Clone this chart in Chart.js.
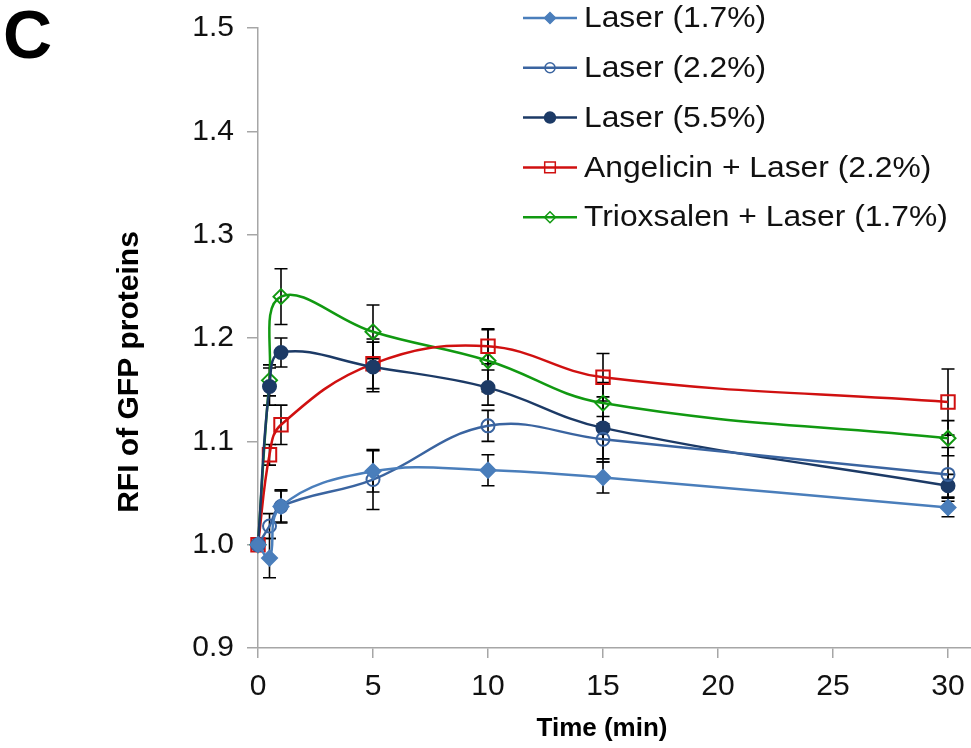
<!DOCTYPE html>
<html>
<head>
<meta charset="utf-8">
<script src="https://cdn.jsdelivr.net/npm/chart.js@4.4.1/dist/chart.umd.min.js"></script>
<style>
  html, body { margin: 0; padding: 0; background: #fff; }
  #wrap { position: relative; width: 971px; height: 748px; }
</style>
</head>
<body>
<div id="wrap"><canvas id="c" width="971" height="748"></canvas></div>
<script>
// ---- Data ----
const times = [0, 0.5, 1, 5, 10, 15, 30];
const seriesLabels = ['Laser (1.7%)', 'Laser (2.2%)', 'Laser (5.5%)', 'Angelicin + Laser (2.2%)', 'Trioxsalen + Laser (1.7%)'];
const laser17    = [1.000, 0.987, 1.037, 1.071, 1.072, 1.065, 1.036];
const laser17Err = [0, 0.019, 0.015, 0.020, 0.015, 0.015, 0.009];
const laser22    = [1.000, 1.018, 1.037, 1.063, 1.115, 1.102, 1.068];
const laser22Err = [0, 0.012, 0.016, 0.029, 0.015, 0.022, 0.026];
const laser55    = [1.000, 1.153, 1.186, 1.172, 1.152, 1.113, 1.057];
const laser55Err = [0, 0.018, 0.014, 0.024, 0.017, 0.030, 0.011];
const angel      = [1.000, 1.087, 1.116, 1.175, 1.192, 1.162, 1.138];
const angelErr   = [0, 0.010, 0.019, 0.024, 0.017, 0.023, 0.032];
const triox      = [1.000, 1.159, 1.240, 1.206, 1.178, 1.137, 1.103];
const trioxErr   = [0, 0.015, 0.027, 0.026, 0.030, 0.020, 0.017];
const xTicks = [0, 5, 10, 15, 20, 25, 30];
const yTicks = [0.9, 1.0, 1.1, 1.2, 1.3, 1.4, 1.5];

const FONT = '"Liberation Sans", Arial, sans-serif';

function pts(vals) { return times.map((t, i) => ({ x: t, y: vals[i] })); }

const styles = [
  { color: '#4a7ebb', pointStyle: 'rectRot', fill: '#4a7ebb', r: 7.5, lr: 5.5 },
  { color: '#3a64a0', pointStyle: 'circle', fill: 'rgba(255,255,255,0)', r: 6.5, lr: 5 },
  { color: '#1c3a66', pointStyle: 'circle', fill: '#1c3a66', r: 6.5, lr: 5.5 },
  { color: '#d01010', pointStyle: 'rect', fill: 'rgba(255,255,255,0)', r: 9.5, lr: 7.5 },
  { color: '#119911', pointStyle: 'rectRot', fill: 'rgba(255,255,255,0)', r: 7.5, lr: 5.5 }
];
const values = [laser17, laser22, laser55, angel, triox];
const errors = [laser17Err, laser22Err, laser55Err, angelErr, trioxErr];

const datasets = values.map((v, i) => ({
  label: seriesLabels[i],
  data: pts(v),
  errs: errors[i],
  borderColor: styles[i].color,
  backgroundColor: styles[i].fill,
  pointBorderColor: styles[i].color,
  pointBackgroundColor: styles[i].fill,
  pointStyle: styles[i].pointStyle,
  pointRadius: styles[i].r,
  pointBorderWidth: 2,
  borderWidth: 2.5,
  tension: 0.4,
  clip: false,
  fill: false
}));

const errorBars = {
  id: 'errorBars',
  beforeDatasetsDraw(chart) {
    const ctx = chart.ctx, xs = chart.scales.x, ys = chart.scales.y;
    ctx.save();
    ctx.strokeStyle = '#000';
    ctx.lineWidth = 1.6;
    chart.data.datasets.forEach(ds => {
      ds.data.forEach((p, i) => {
        const e = ds.errs[i];
        if (!e) return;
        const x = xs.getPixelForValue(p.x);
        const y1 = ys.getPixelForValue(p.y + e);
        const y2 = ys.getPixelForValue(p.y - e);
        ctx.beginPath();
        ctx.moveTo(x, y1); ctx.lineTo(x, y2);
        ctx.moveTo(x - 6.5, y1); ctx.lineTo(x + 6.5, y1);
        ctx.moveTo(x - 6.5, y2); ctx.lineTo(x + 6.5, y2);
        ctx.stroke();
      });
    });
    ctx.restore();
  }
};

function stretchedText(ctx, text, x, y, sx) {
  ctx.save();
  ctx.translate(x, y);
  ctx.scale(sx, 1);
  ctx.fillText(text, 0, 0);
  ctx.restore();
}

const decorations = {
  id: 'decorations',
  afterDraw(chart) {
    const ctx = chart.ctx;
    ctx.save();
    // panel letter
    ctx.fillStyle = '#000';
    ctx.font = 'bold 68px ' + FONT;
    ctx.textAlign = 'left';
    ctx.textBaseline = 'alphabetic';
    ctx.fillText('C', 3, 58);
    // axis titles
    ctx.font = 'bold 26px ' + FONT;
    ctx.textAlign = 'center';
    ctx.textBaseline = 'middle';
    ctx.fillText('Time (min)', 602, 729);
    ctx.save();
    ctx.translate(130, 372);
    ctx.rotate(-Math.PI / 2);
    ctx.font = 'bold 30px ' + FONT;
    ctx.fillText('RFI of GFP proteins', 0, 0);
    ctx.restore();
    // legend
    ctx.font = '30px ' + FONT;
    ctx.textAlign = 'left';
    ctx.textBaseline = 'middle';
    chart.data.datasets.forEach((ds, i) => {
      const y = 18 + i * 49.8;
      ctx.strokeStyle = ds.borderColor;
      ctx.lineWidth = 2.5;
      ctx.beginPath();
      ctx.moveTo(523, y); ctx.lineTo(577, y);
      ctx.stroke();
      ctx.fillStyle = ds.pointBackgroundColor;
      ctx.strokeStyle = ds.pointBorderColor;
      ctx.lineWidth = 1.5;
      Chart.helpers.drawPoint(ctx, { pointStyle: ds.pointStyle, radius: styles[i].lr, borderWidth: 1.5, rotation: 0 }, 550, y);
      ctx.fillStyle = '#111';
      stretchedText(ctx, ds.label, 584, y + 1, 1.06);
    });
    ctx.restore();
  }
};

new Chart(document.getElementById('c'), {
  type: 'line',
  data: { datasets },
  plugins: [errorBars, decorations],
  options: {
    responsive: false,
    animation: false,
    layout: { autoPadding: false, padding: { top: 28, right: 0, left: 0, bottom: 0 } },
    plugins: { legend: { display: false }, tooltip: { enabled: false } },
    scales: {
      x: {
        type: 'linear',
        min: 0, max: 31,
        afterBuildTicks(scale) { scale.ticks = xTicks.map(v => ({ value: v })); },
        afterFit(scale) { scale.height = 100; scale.paddingRight = 0; scale.paddingLeft = 0; },
        grid: { display: true, drawOnChartArea: false, drawTicks: true, tickLength: 10, color: '#a6a6a6', lineWidth: 1.5 },
        border: { display: true, color: '#a6a6a6', width: 1.5 },
        ticks: { font: { family: FONT, size: 30 }, color: '#111', padding: 11, maxRotation: 0, autoSkip: false,
                 callback: v => String(v) }
      },
      y: {
        type: 'linear',
        min: 0.9, max: 1.5,
        afterBuildTicks(scale) { scale.ticks = yTicks.map(v => ({ value: v })); },
        afterFit(scale) { scale.width = 258; scale.paddingTop = 0; scale.paddingBottom = 0; },
        grid: { display: true, drawOnChartArea: false, drawTicks: true, tickLength: 11, color: '#a6a6a6', lineWidth: 1.5 },
        border: { display: true, color: '#a6a6a6', width: 1.5 },
        ticks: { font: { family: FONT, size: 30 }, color: '#111', padding: 13,
                 callback: v => Number(v).toFixed(1) }
      }
    }
  }
});
</script>
</body>
</html>
